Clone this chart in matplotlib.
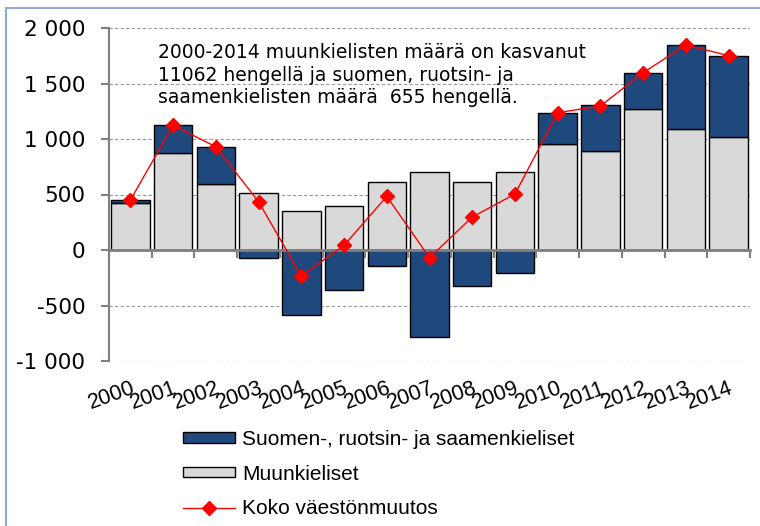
import numpy as np
import matplotlib
matplotlib.use('Agg')
import matplotlib.pyplot as plt
from matplotlib.patches import Rectangle

plt.rcParams['font.family'] = ['Liberation Sans', 'DejaVu Sans']

years = ['2000', '2001', '2002', '2003', '2004', '2005', '2006', '2007',
         '2008', '2009', '2010', '2011', '2012', '2013', '2014']
# muunkieliset (vieraskieliset) ja kotimaiset kielet, muutos / vuosi
muunkieliset = [420, 870, 595, 510, 348, 399, 616, 703, 613, 703, 955, 892, 1267, 1090, 1021]
kotimaiset = [30, 253, 336, -75, -589, -363, -141, -781, -324, -210, 282, 411, 328, 757, 730]
koko = [450, 1123, 930, 435, -234, 42, 483, -69, 297, 504, 1237, 1297, 1598, 1847, 1751]
yticks = [-1000, -500, 0, 500, 1000, 1500, 2000]

note = ('2000-2014 muunkielisten määrä on kasvanut\n'
        '11062 hengellä ja suomen, ruotsin- ja\n'
        'saamenkielisten määrä  655 hengellä.')

GRAY = '#D9D9D9'
BLUE = '#1F497D'
AXC = '#808080'

fig = plt.figure(figsize=(7.6, 5.26), dpi=100)
ax = fig.add_axes([109/760, 1-361/526, 641/760, 333/526])

x = np.arange(len(years))
bot = np.where(np.array(kotimaiset) > 0, muunkieliset, 0)
b_gray = ax.bar(x, muunkieliset, 0.9, color=GRAY, edgecolor='black', lw=1, zorder=2)
b_blue = ax.bar(x, kotimaiset, 0.9, bottom=bot, color=BLUE, edgecolor='black', lw=1, zorder=2)
ln, = ax.plot(x, koko, color='red', lw=1, marker='D', ms=7.5, mec='red', zorder=6)

ax.set_xlim(-0.5, len(years) - 0.5)
ax.set_ylim(yticks[0], yticks[-1])
ax.set_yticks(yticks)
ax.set_yticklabels([f'{v:,}'.replace(',', ' ') for v in yticks], family='DejaVu Sans')
ax.yaxis.grid(True, linestyle=(0, (3, 2)), color='#999999', lw=0.8)
ax.set_axisbelow(True)

for s in ['top', 'right', 'bottom']:
    ax.spines[s].set_visible(False)
ax.spines['left'].set_color(AXC)
ax.spines['left'].set_linewidth(1.5)
ax.tick_params(axis='y', direction='out', length=6, width=1.5, color=AXC, pad=11, labelsize=15.5)

ax.set_xticks(x, years)
ax.tick_params(axis='x', length=0, pad=12, labelsize=15.5)
for lab in ax.get_xticklabels():
    lab.set_rotation(20)
    lab.set_ha('right')
    lab.set_rotation_mode('anchor')

# nollaviiva jakoviivoineen
zero = (0 - yticks[0]) / (yticks[-1] - yticks[0])
sec = ax.secondary_xaxis(zero)
sec.set_xticks(np.arange(len(years) + 1) - 0.5)
sec.tick_params(axis='x', direction='out', length=6, width=1.5, color=AXC,
                labelbottom=False, labeltop=False)
for s in sec.spines.values():
    s.set_color(AXC)
    s.set_linewidth(2)
sec.set_zorder(4)

ax.text(0.0764, 0.955, note, transform=ax.transAxes, fontsize=13.5,
        family='DejaVu Sans', va='top', ha='left', linespacing=1.25)

fig.legend([b_blue, b_gray, ln],
           ['Suomen-, ruotsin- ja saamenkieliset', 'Muunkieliset', 'Koko väestönmuutos'],
           loc='upper left', bbox_to_anchor=(183/760, 1-430/526), frameon=False,
           fontsize=15, handlelength=2.5, handleheight=0.4, handletextpad=0.35,
           labelspacing=0.75, borderpad=0, borderaxespad=0)

fig.patches.append(Rectangle((6/760, -0.1), 2, 1.1 - 8/526, transform=fig.transFigure,
                             fill=False, edgecolor='#8EAADB', lw=1.5))

fig.savefig('out.png', dpi=100)
